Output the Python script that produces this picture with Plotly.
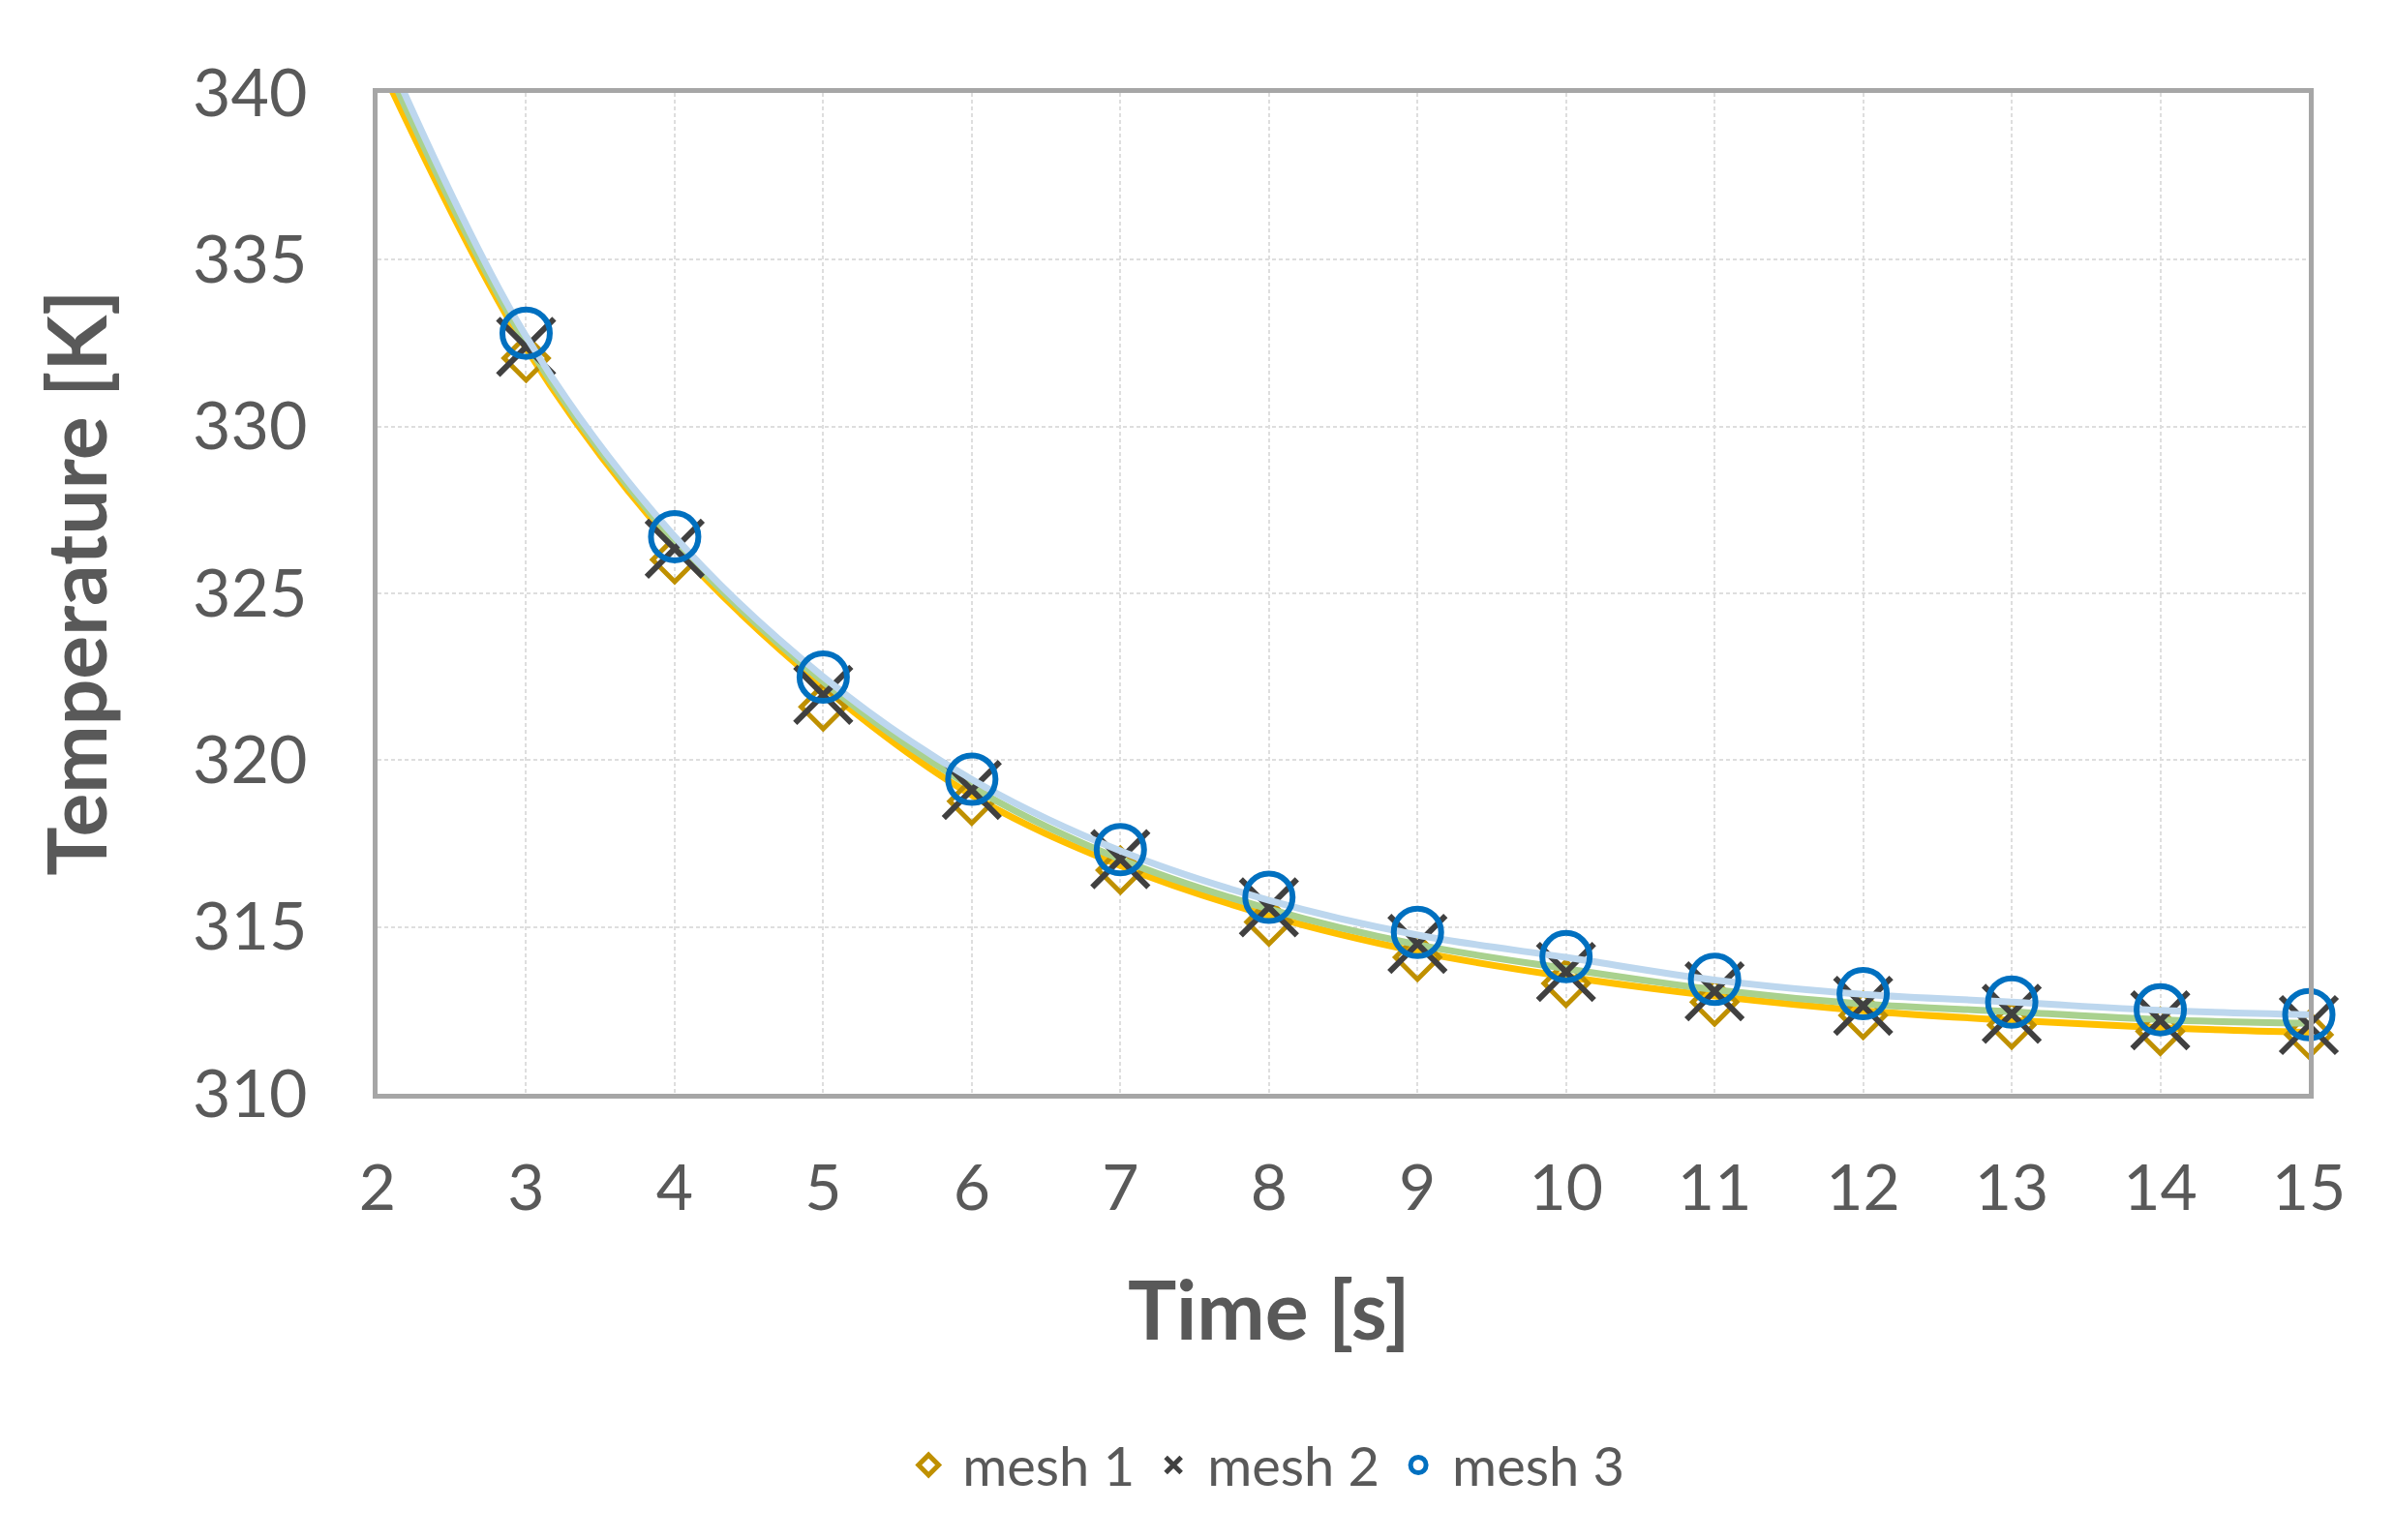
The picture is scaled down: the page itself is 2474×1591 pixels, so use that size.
#!/usr/bin/env python3
"""
Mesh independence check: temperature decay over time for three meshes.
Writes out.html.
"""
import plotly.graph_objects as go

# smooth curves (at whole seconds)
time_line = [2, 3, 4, 5, 6, 7, 8, 9, 10, 11, 12, 13, 14, 15]
mesh1_line = [341.0, 332.35, 326.43, 322.2, 318.95, 316.84, 315.34,
              314.26, 313.51, 312.93, 312.49, 312.20, 311.98, 311.84]
mesh2_line = [341.4, 332.5, 326.56, 322.35, 319.2, 317.03, 315.54,
              314.47, 313.75, 313.12, 312.69, 312.46, 312.22, 312.11]
mesh3_line = [341.8, 332.7, 326.70, 322.5, 319.42, 317.28, 315.8,
              314.76, 314.09, 313.41, 312.98, 312.75, 312.50, 312.37]

# marker points
time_pts = [3, 4, 5, 6, 7, 8, 9, 10, 11, 12, 13, 14, 15]
mesh1_pts = [332.05, 326.01, 321.6, 318.77, 316.70, 315.15, 314.09,
             313.31, 312.75, 312.35, 312.06, 311.87, 311.77]
mesh2_pts = [332.39, 326.34, 321.96, 319.11, 317.03, 315.59, 314.49,
             313.65, 313.07, 312.64, 312.40, 312.20, 312.06]
mesh3_pts = [332.80, 326.70, 322.49, 319.43, 317.32, 315.89, 314.84,
             314.11, 313.43, 313.00, 312.75, 312.52, 312.37]

x_ticks = list(range(2, 16))
y_ticks = [310, 315, 320, 325, 330, 335, 340]

GREY_TXT = "#595959"
NARROW = "Liberation Sans Narrow, Lato, sans-serif"

fig = go.Figure()

# name, curve, points, curve colour, symbol, marker colour, size, stroke
series = [
    ("mesh 1", mesh1_line, mesh1_pts, "#FFC000", "diamond-open", "#BF9000", 35, 5),
    ("mesh 2", mesh2_line, mesh2_pts, "#A9D18E", "x-thin-open", "#404040", 58, 6),
    ("mesh 3", mesh3_line, mesh3_pts, "#BDD7EE", "circle-open", "#0070C0", 49, 6),
]

for name, line_vals, pt_vals, line_col, sym, mk_col, mk_size, mk_w in series:
    fig.add_trace(go.Scatter(
        x=time_line, y=line_vals, mode="lines",
        line=dict(color=line_col, width=7, shape="spline"),
        showlegend=False, hoverinfo="skip",
    ))
    fig.add_trace(go.Scatter(
        x=time_pts, y=pt_vals, mode="markers", name=name,
        marker=dict(symbol=sym, size=mk_size, color=mk_col,
                    line=dict(color=mk_col, width=mk_w)),
        cliponaxis=False,
    ))

axis_common = dict(
    showline=True, mirror=True, linecolor="#A6A6A6", linewidth=5,
    showgrid=True, gridcolor="#DEDEDE", gridwidth=1.5, griddash="4px,3px",
    zeroline=False, ticks="outside", tickcolor="rgba(0,0,0,0)",
)

fig.update_xaxes(
    range=[2, 15], tickvals=x_ticks, ticklen=36,
    tickfont=dict(family=NARROW, size=66, color=GREY_TXT),
    **axis_common,
)
fig.update_yaxes(
    range=[310, 340], tickvals=y_ticks, ticklen=54,
    tickfont=dict(family="Lato", size=68, color=GREY_TXT),
    **axis_common,
)

fig.add_annotation(
    text="<b>Time [s]</b>", xref="paper", yref="paper",
    x=0.4617, y=-0.2147, xanchor="center", yanchor="middle",
    showarrow=False, font=dict(family=NARROW, size=84, color=GREY_TXT),
)
fig.add_annotation(
    text="<b>Temperature [K]</b>", xref="paper", yref="paper",
    x=-0.157, y=0.5106, xanchor="center", yanchor="middle", textangle=-90,
    showarrow=False, font=dict(family="Lato", size=84, color=GREY_TXT),
)

fig.update_layout(
    width=2474, height=1591,
    margin=dict(l=390, r=89, t=96, b=461),
    plot_bgcolor="white", paper_bgcolor="white",
    legend=dict(
        orientation="h", x=0.458, y=-0.371, xanchor="center", yanchor="middle",
        font=dict(family=NARROW, size=56, color=GREY_TXT),
        itemwidth=60, traceorder="normal",
    ),
)

fig.write_html("out.html", config={"displayModeBar": False},
               post_script="document.body.style.margin='0';")
